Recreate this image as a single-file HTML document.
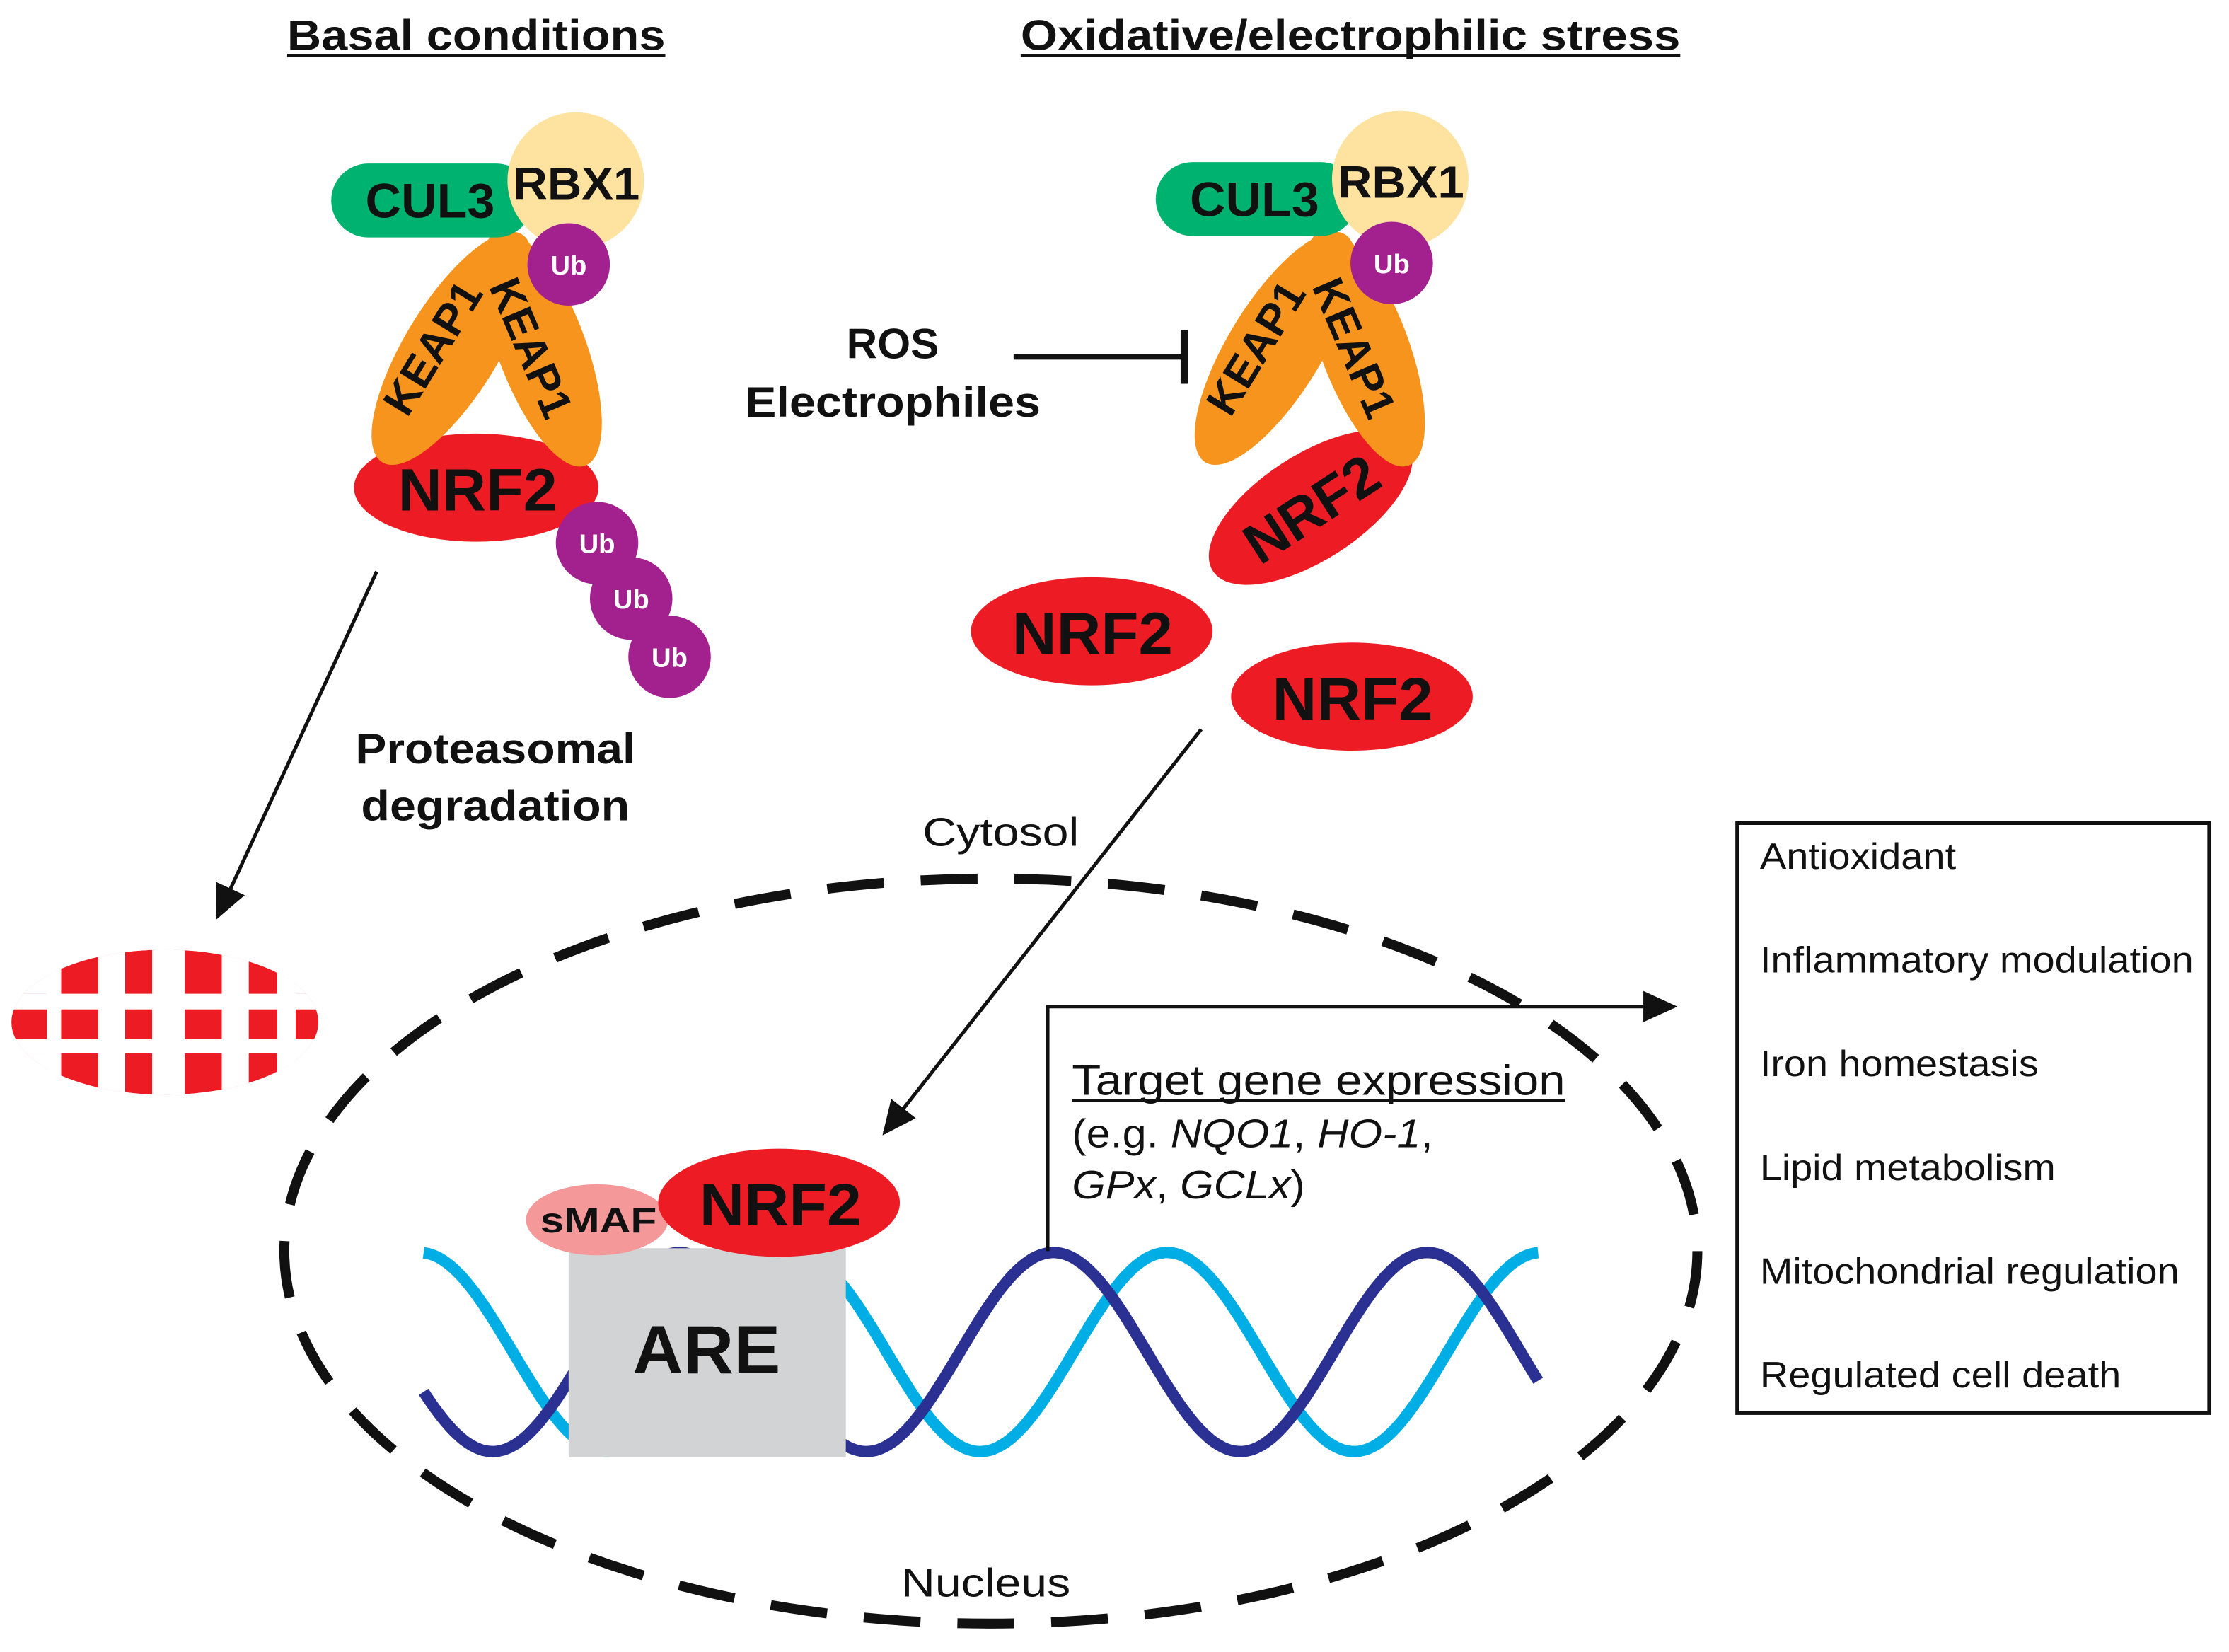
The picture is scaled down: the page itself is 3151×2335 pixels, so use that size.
<!DOCTYPE html>
<html><head><meta charset="utf-8"><style>
html,body{margin:0;padding:0;background:#fff;}
svg{display:block;}
text{font-family:"Liberation Sans",Arial,sans-serif;}
</style></head><body>
<svg id="s" width="3151" height="2335" viewBox="0 0 1568 1162" preserveAspectRatio="none" xmlns="http://www.w3.org/2000/svg">
<defs>
<marker id="ah2" markerWidth="24" markerHeight="22" refX="22" refY="11" orient="auto" markerUnits="userSpaceOnUse"><path d="M0,0 L24,11 L0,22 z" fill="#111"/></marker>
<clipPath id="pc"><ellipse cx="116" cy="719" rx="108" ry="51"/></clipPath>
</defs>
<rect width="1568" height="1162" fill="#fff"/>

<!-- titles -->
<text x="202" y="35" font-size="30" font-weight="bold" fill="#111" textLength="266" lengthAdjust="spacingAndGlyphs">Basal conditions</text>
<line x1="202" y1="39" x2="468" y2="39" stroke="#111" stroke-width="2"/>
<text x="718" y="35" font-size="30" font-weight="bold" fill="#111" textLength="464" lengthAdjust="spacingAndGlyphs">Oxidative/electrophilic stress</text>
<line x1="718" y1="39" x2="1182" y2="39" stroke="#111" stroke-width="2"/>

<!-- LEFT complex -->
<ellipse cx="335" cy="343" rx="86" ry="38" fill="#ed1c24"/>
<ellipse cx="318" cy="245" rx="94" ry="33" fill="#f7941d" transform="rotate(-58.5 318 245)"/>
<ellipse cx="381" cy="245" rx="88" ry="31" fill="#f7941d" transform="rotate(69.5 381 245)"/>
<text x="305" y="255" font-size="31" font-weight="bold" text-anchor="middle" fill="#111" transform="rotate(-58.5 305 245)">KEAP1</text>
<text x="373" y="255" font-size="31" font-weight="bold" text-anchor="middle" fill="#111" transform="rotate(67 373 245)">KEAP1</text>
<rect x="233" y="115" width="142" height="52" rx="26" fill="#00b26f"/>
<circle cx="405" cy="127" r="48" fill="#fee2a0"/>
<text x="257" y="153" font-size="34" font-weight="bold" fill="#111" textLength="91" lengthAdjust="spacingAndGlyphs">CUL3</text>
<text x="361" y="140" font-size="32" font-weight="bold" fill="#111" textLength="89" lengthAdjust="spacingAndGlyphs">RBX1</text>
<circle cx="400" cy="186" r="29" fill="#a3208f"/>
<text x="400" y="193" font-size="19" font-weight="bold" text-anchor="middle" fill="#fff">Ub</text>
<text x="280" y="359" font-size="42" font-weight="bold" fill="#111" textLength="112" lengthAdjust="spacingAndGlyphs">NRF2</text>
<circle cx="420" cy="382" r="29" fill="#a3208f"/>
<text x="420" y="389" font-size="19" font-weight="bold" text-anchor="middle" fill="#fff">Ub</text>
<circle cx="444" cy="421" r="29" fill="#a3208f"/>
<text x="444" y="428" font-size="19" font-weight="bold" text-anchor="middle" fill="#fff">Ub</text>
<circle cx="471" cy="462" r="29" fill="#a3208f"/>
<text x="471" y="469" font-size="19" font-weight="bold" text-anchor="middle" fill="#fff">Ub</text>

<!-- RIGHT complex -->
<ellipse cx="922" cy="357" rx="82" ry="37" fill="#ed1c24" transform="rotate(-33 922 357)"/>
<ellipse cx="897" cy="245" rx="94" ry="33" fill="#f7941d" transform="rotate(-58.5 897 245)"/>
<ellipse cx="960" cy="245" rx="88" ry="31" fill="#f7941d" transform="rotate(69.5 960 245)"/>
<text x="884" y="255" font-size="31" font-weight="bold" text-anchor="middle" fill="#111" transform="rotate(-58.5 884 245)">KEAP1</text>
<text x="952" y="255" font-size="31" font-weight="bold" text-anchor="middle" fill="#111" transform="rotate(67 952 245)">KEAP1</text>
<rect x="813" y="114" width="142" height="52" rx="26" fill="#00b26f"/>
<circle cx="985" cy="126" r="48" fill="#fee2a0"/>
<text x="837" y="152" font-size="34" font-weight="bold" fill="#111" textLength="91" lengthAdjust="spacingAndGlyphs">CUL3</text>
<text x="941" y="139" font-size="32" font-weight="bold" fill="#111" textLength="89" lengthAdjust="spacingAndGlyphs">RBX1</text>
<circle cx="979" cy="185" r="29" fill="#a3208f"/>
<text x="979" y="192" font-size="19" font-weight="bold" text-anchor="middle" fill="#fff">Ub</text>
<text x="922" y="372" font-size="40" font-weight="bold" text-anchor="middle" fill="#111" transform="rotate(-33 922 357)">NRF2</text>

<ellipse cx="768" cy="444" rx="85" ry="38" fill="#ed1c24"/>
<text x="712" y="460" font-size="42" font-weight="bold" fill="#111" textLength="113" lengthAdjust="spacingAndGlyphs">NRF2</text>
<ellipse cx="951" cy="490" rx="85" ry="38" fill="#ed1c24"/>
<text x="895" y="506" font-size="42" font-weight="bold" fill="#111" textLength="113" lengthAdjust="spacingAndGlyphs">NRF2</text>

<!-- ROS -->
<text x="628" y="252" font-size="30" font-weight="bold" text-anchor="middle" fill="#111">ROS</text>
<text x="524" y="293" font-size="30" font-weight="bold" fill="#111" textLength="208" lengthAdjust="spacingAndGlyphs">Electrophiles</text>
<line x1="713" y1="251" x2="833" y2="251" stroke="#111" stroke-width="4"/>
<line x1="833" y1="232" x2="833" y2="270" stroke="#111" stroke-width="5"/>

<!-- arrows -->
<line x1="265" y1="402" x2="153" y2="645" stroke="#111" stroke-width="2.5" marker-end="url(#ah2)"/>
<line x1="845" y1="513" x2="622" y2="797" stroke="#111" stroke-width="2.5" marker-end="url(#ah2)"/>

<text x="250" y="537" font-size="30" font-weight="bold" fill="#111" textLength="197" lengthAdjust="spacingAndGlyphs">Proteasomal</text>
<text x="254" y="577" font-size="30" font-weight="bold" fill="#111" textLength="189" lengthAdjust="spacingAndGlyphs">degradation</text>

<!-- proteasome -->
<g clip-path="url(#pc)">
<ellipse cx="116" cy="719" rx="108" ry="51" fill="#ed1c24"/>
<rect x="0" y="699" width="240" height="11" fill="#fff"/>
<rect x="0" y="731" width="240" height="10" fill="#fff"/>
<rect x="33" y="660" width="10" height="120" fill="#fff"/>
<rect x="69" y="660" width="19" height="120" fill="#fff"/>
<rect x="107" y="660" width="23" height="120" fill="#fff"/>
<rect x="156" y="660" width="19" height="120" fill="#fff"/>
<rect x="195" y="660" width="13" height="120" fill="#fff"/>
<rect x="0" y="660" width="43" height="39" fill="#fff"/>
<rect x="0" y="741" width="43" height="40" fill="#fff"/>
<rect x="195" y="660" width="40" height="39" fill="#fff"/>
<rect x="195" y="741" width="40" height="40" fill="#fff"/>
</g>

<text x="649" y="595" font-size="28" fill="#111" textLength="110" lengthAdjust="spacingAndGlyphs">Cytosol</text>
<text x="634" y="1123" font-size="28" fill="#111" textLength="119" lengthAdjust="spacingAndGlyphs">Nucleus</text>

<!-- nucleus -->
<ellipse cx="697" cy="880" rx="497" ry="262" fill="none" stroke="#111" stroke-width="7" stroke-dasharray="40 26"/>

<!-- DNA -->
<path id="light" d="" fill="none" stroke="#00aee6" stroke-width="8"/>
<path id="dark" d="" fill="none" stroke="#2b3192" stroke-width="8"/>

<rect x="400" y="878" width="195" height="147" fill="#d1d3d4"/>
<text x="445" y="966" font-size="48" font-weight="bold" fill="#111" textLength="104" lengthAdjust="spacingAndGlyphs">ARE</text>
<ellipse cx="420" cy="858" rx="50" ry="25" fill="#f4989a"/>
<ellipse cx="548" cy="846" rx="85" ry="38" fill="#ed1c24"/>
<text x="380" y="867" font-size="25" font-weight="bold" fill="#111" textLength="82" lengthAdjust="spacingAndGlyphs">sMAF</text>
<text x="492" y="862" font-size="42" font-weight="bold" fill="#111" textLength="114" lengthAdjust="spacingAndGlyphs">NRF2</text>

<!-- target gene arrow -->
<polyline points="737,880 737,708 1178,708" fill="none" stroke="#111" stroke-width="2.5" marker-end="url(#ah2)"/>
<text x="754" y="770" font-size="30" fill="#111" textLength="347" lengthAdjust="spacingAndGlyphs">Target gene expression</text>
<line x1="754" y1="774" x2="1101" y2="774" stroke="#111" stroke-width="2"/>
<text x="754" y="807" font-size="28" fill="#111" textLength="254" lengthAdjust="spacingAndGlyphs">(e.g. <tspan font-style="italic">NQO1</tspan>, <tspan font-style="italic">HO-1</tspan>,</text>
<text x="754" y="843" font-size="28" fill="#111" textLength="164" lengthAdjust="spacingAndGlyphs"><tspan font-style="italic">GPx</tspan>, <tspan font-style="italic">GCLx</tspan>)</text>

<!-- box -->
<rect x="1222" y="579" width="332" height="415" fill="none" stroke="#111" stroke-width="2.5"/>
<g font-size="26" fill="#111">
<text x="1238" y="611" textLength="138" lengthAdjust="spacingAndGlyphs">Antioxidant</text>
<text x="1238" y="684" textLength="305" lengthAdjust="spacingAndGlyphs">Inflammatory modulation</text>
<text x="1238" y="757" textLength="196" lengthAdjust="spacingAndGlyphs">Iron homestasis</text>
<text x="1238" y="830" textLength="208" lengthAdjust="spacingAndGlyphs">Lipid metabolism</text>
<text x="1238" y="903" textLength="295" lengthAdjust="spacingAndGlyphs">Mitochondrial regulation</text>
<text x="1238" y="976" textLength="254" lengthAdjust="spacingAndGlyphs">Regulated cell death</text>
</g>
</svg>
<script>
function wave(peak,P){var d="";for(var x=298;x<=1082;x+=2){var y=951-70*Math.cos(2*Math.PI*(x-peak)/P);d+=(x==298?"M":"L")+x+","+y.toFixed(1)+" ";}return d;}
document.getElementById("dark").setAttribute("d",wave(741,263));
document.getElementById("light").setAttribute("d",wave(821,263));
</script>
</body></html>
